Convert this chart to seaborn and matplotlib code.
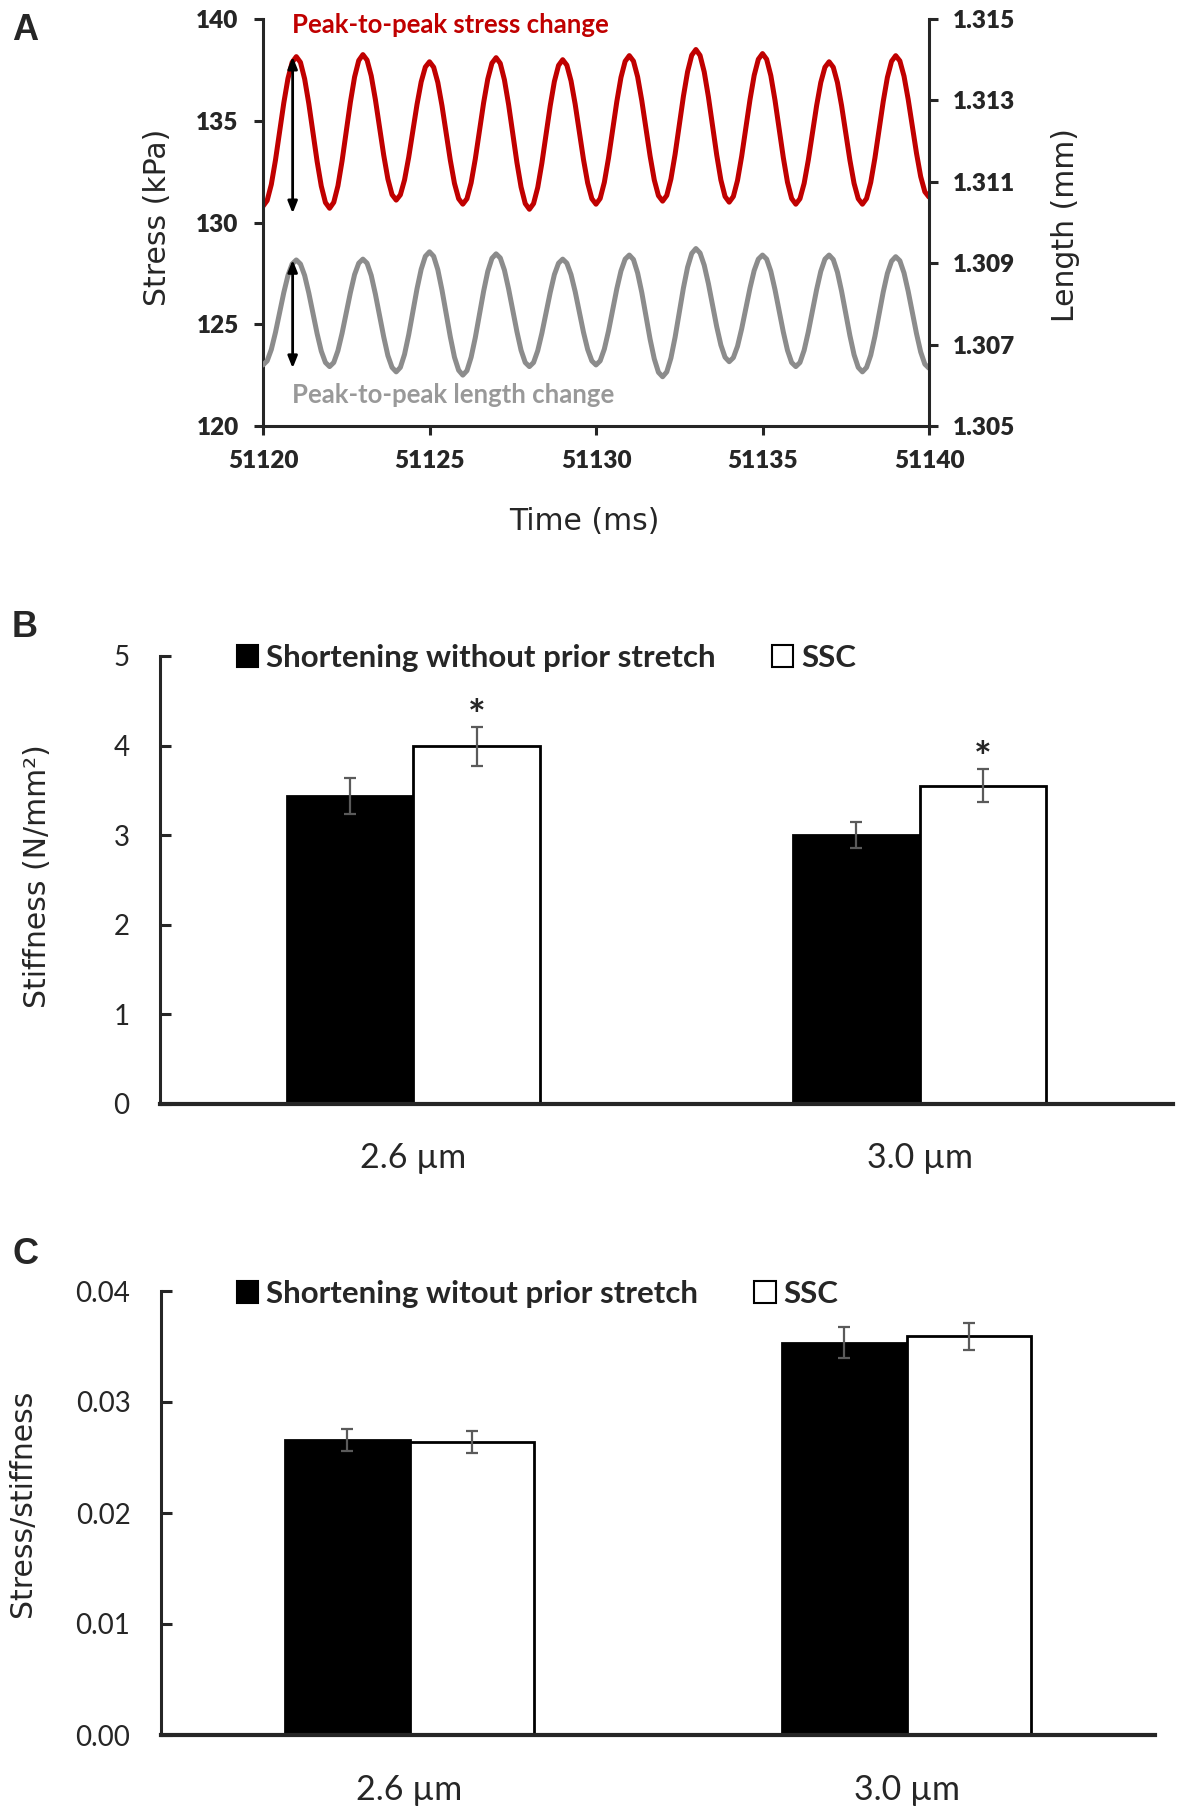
import numpy as np
import pandas as pd
import matplotlib
matplotlib.use('Agg')
import matplotlib.pyplot as plt
from matplotlib.patches import Patch
import seaborn as sns

# ---------------- data ----------------
# Panel A: traces, one value every 0.125 ms
time_ms = np.arange(51120, 51140.001, 0.125)
stress_kpa = [130.80,
              131.08, 131.87, 133.07, 134.48, 135.88, 137.08, 137.87, 138.15,
              137.87, 137.06, 135.85, 134.42, 133.00, 131.79, 130.98, 130.70,
              130.99, 131.80, 133.03, 134.48, 135.92, 137.15, 137.96, 138.25,
              137.98, 137.21, 136.04, 134.67, 133.31, 132.14, 131.37, 131.10,
              131.36, 132.09, 133.20, 134.50, 135.80, 136.91, 137.64, 137.90,
              137.63, 136.88, 135.74, 134.40, 133.06, 131.92, 131.17, 130.90,
              131.17, 131.95, 133.12, 134.50, 135.88, 137.05, 137.83, 138.10,
              137.82, 137.01, 135.80, 134.37, 132.95, 131.74, 130.93, 130.65,
              130.93, 131.72, 132.92, 134.33, 135.73, 136.93, 137.72, 138.00,
              137.73, 136.96, 135.81, 134.45, 133.09, 131.94, 131.17, 130.90,
              131.18, 131.97, 133.16, 134.55, 135.94, 137.13, 137.92, 138.20,
              137.93, 137.16, 135.99, 134.62, 133.26, 132.09, 131.32, 131.05,
              131.33, 132.14, 133.35, 134.78, 136.20, 137.41, 138.22, 138.50,
              138.21, 137.40, 136.18, 134.75, 133.32, 132.09, 131.28, 131.00,
              131.28, 132.07, 133.26, 134.65, 136.04, 137.23, 138.02, 138.30,
              138.02, 137.22, 136.01, 134.60, 133.19, 131.98, 131.18, 130.90,
              131.17, 131.92, 133.06, 134.40, 135.74, 136.88, 137.63, 137.90,
              137.63, 136.88, 135.74, 134.40, 133.06, 131.92, 131.17, 130.90,
              131.18, 131.97, 133.16, 134.55, 135.94, 137.13, 137.92, 138.20,
              137.94, 137.19, 136.05, 134.72, 133.40, 132.26, 131.51, 131.25]
length_mm = [1.30650,
             1.30660, 1.30688, 1.30730, 1.30779, 1.30828, 1.30870, 1.30898, 1.30908,
             1.30898, 1.30870, 1.30827, 1.30777, 1.30727, 1.30684, 1.30656, 1.30646,
             1.30656, 1.30685, 1.30728, 1.30778, 1.30828, 1.30872, 1.30900, 1.30910,
             1.30900, 1.30870, 1.30824, 1.30772, 1.30719, 1.30673, 1.30644, 1.30633,
             1.30644, 1.30676, 1.30724, 1.30781, 1.30837, 1.30885, 1.30917, 1.30928,
             1.30917, 1.30884, 1.30834, 1.30777, 1.30719, 1.30669, 1.30637, 1.30625,
             1.30636, 1.30669, 1.30717, 1.30774, 1.30831, 1.30880, 1.30912, 1.30923,
             1.30913, 1.30883, 1.30837, 1.30785, 1.30732, 1.30686, 1.30656, 1.30646,
             1.30656, 1.30685, 1.30728, 1.30778, 1.30828, 1.30872, 1.30900, 1.30910,
             1.30900, 1.30872, 1.30830, 1.30780, 1.30730, 1.30688, 1.30660, 1.30650,
             1.30660, 1.30689, 1.30733, 1.30785, 1.30837, 1.30881, 1.30910, 1.30920,
             1.30909, 1.30876, 1.30828, 1.30771, 1.30713, 1.30665, 1.30632, 1.30621,
             1.30633, 1.30667, 1.30718, 1.30779, 1.30839, 1.30890, 1.30924, 1.30936,
             1.30925, 1.30895, 1.30850, 1.30797, 1.30744, 1.30699, 1.30669, 1.30658,
             1.30668, 1.30696, 1.30739, 1.30789, 1.30839, 1.30882, 1.30910, 1.30920,
             1.30910, 1.30880, 1.30835, 1.30783, 1.30731, 1.30686, 1.30656, 1.30646,
             1.30656, 1.30686, 1.30731, 1.30783, 1.30835, 1.30880, 1.30910, 1.30920,
             1.30909, 1.30878, 1.30831, 1.30777, 1.30722, 1.30675, 1.30644, 1.30633,
             1.30644, 1.30674, 1.30720, 1.30775, 1.30829, 1.30875, 1.30905, 1.30916,
             1.30906, 1.30876, 1.30831, 1.30779, 1.30727, 1.30682, 1.30652, 1.30642]

time_ticks = [51120, 51125, 51130, 51135, 51140]
stress_ticks = [120, 125, 130, 135, 140]
length_ticks = [1.305, 1.307, 1.309, 1.311, 1.313, 1.315]

# Panels B and C
sarcomere = ['2.6 µm', '3.0 µm']
groups_b = ['Shortening without prior stretch', 'SSC']
groups_c = ['Shortening witout prior stretch', 'SSC']
stiffness_mean = {'shortening': [3.44, 3.00], 'ssc': [3.99, 3.55]}
stiffness_err = {'shortening': [0.20, 0.145], 'ssc': [0.22, 0.185]}
stiffness_ticks = [0, 1, 2, 3, 4, 5]
ratio_mean = {'shortening': [0.0266, 0.03535], 'ssc': [0.0264, 0.03592]}
ratio_err = {'shortening': [0.00098, 0.0014], 'ssc': [0.00097, 0.00122]}
ratio_ticks = [0.00, 0.01, 0.02, 0.03, 0.04]

RED = '#C00000'
GREY = '#8C8C8C'
ERR = '#5A5A5A'

sns.set_style('ticks')
plt.rcParams['font.family'] = ['Lato', 'DejaVu Sans']
plt.rcParams['axes.linewidth'] = 2.2

W, H = 1182, 1814
fig = plt.figure(figsize=(W / 100, H / 100), dpi=100)


def px_axes(left, top, right, bottom):
    # axes rectangle from pixel edges
    return fig.add_axes([left / W, 1 - bottom / H, (right - left) / W, (bottom - top) / H])


def label_font(size=21.5):
    return dict(family='DejaVu Sans', size=size)


# ---------------- panel A ----------------
ax_a = px_axes(263, 19, 929, 426)
ax_a2 = ax_a.twinx()
sns.lineplot(x=time_ms, y=stress_kpa, ax=ax_a, color=RED, linewidth=3.6)
sns.lineplot(x=time_ms, y=length_mm, ax=ax_a2, color=GREY, linewidth=3.6)
ax_a.set_xlim(51120, 51140)
ax_a.set_ylim(120, 140)
ax_a2.set_ylim(1.305, 1.315)
ax_a.set_xticks(time_ticks, [str(t) for t in time_ticks])
ax_a.set_yticks(stress_ticks, [str(t) for t in stress_ticks])
ax_a2.set_yticks(length_ticks, ['%.3f' % t for t in length_ticks])
ax_a.set_xlabel('')
ax_a.set_ylabel('')
ax_a2.set_ylabel('')
for ax in (ax_a, ax_a2):
    ax.spines['top'].set_visible(False)
    ax.tick_params(direction='out', length=6.5, width=2.2, pad=11, labelsize=17.5)
ax_a.spines['right'].set_visible(False)
ax_a2.spines['left'].set_visible(False)
ax_a2.spines['bottom'].set_visible(False)

# peak-to-peak arrows
x_arrow = 51120.89
arrow_style = dict(arrowstyle='<|-|>,head_length=0.7,head_width=0.28',
                   color='black', lw=2, shrinkA=0, shrinkB=0)
ax_a.annotate('', xy=(x_arrow, min(stress_kpa[:17]) - 0.25), xytext=(x_arrow, stress_kpa[8]),
              arrowprops=arrow_style, zorder=5)
ax_a2.annotate('', xy=(x_arrow, min(length_mm[:17]) - 0.00004), xytext=(x_arrow, length_mm[8]),
               arrowprops=arrow_style, zorder=5)
ax_a.text(51120.87, 139.7, 'Peak-to-peak stress change', color=RED, fontweight='bold',
          fontsize=18.5, va='center', ha='left')
ax_a.text(51120.87, 121.5, 'Peak-to-peak length change', color='#999999', fontweight='bold',
          fontsize=18.5, va='center', ha='left')

fig.text(157 / W, 1 - 217 / H, 'Stress (kPa)', rotation=90, ha='center', va='center', **label_font())
fig.text(1066 / W, 1 - 225 / H, 'Length (mm)', rotation=90, ha='center', va='center', **label_font())
fig.text(584 / W, 1 - 522 / H, 'Time (ms)', ha='center', va='center', **label_font())


# ---------------- panels B and C ----------------
def draw_bars(ax, groups, means, errs, ylim, yticks, fmt, xpad):
    df = pd.DataFrame({
        'sl': sarcomere * 2,
        'group': [groups[0]] * 2 + [groups[1]] * 2,
        'value': means['shortening'] + means['ssc']})
    sns.barplot(data=df, x='sl', y='value', hue='group', palette=['black', 'white'],
                edgecolor='black', linewidth=2, width=0.5, saturation=1,
                errorbar=None, legend=False, ax=ax)
    # error bars on top of each bar
    for cont, key in zip(ax.containers, ['shortening', 'ssc']):
        xs = [p.get_x() + p.get_width() / 2 for p in cont.patches]
        ax.errorbar(xs, means[key], yerr=errs[key], fmt='none', ecolor=ERR,
                    elinewidth=1.6, capsize=4, capthick=1.6, zorder=4)
    ax.set_xlim(-0.5, 1.5)
    ax.set_ylim(*ylim)
    ax.set_yticks(yticks, [fmt % t for t in yticks])
    ax.set_xlabel('')
    ax.set_ylabel('')
    sns.despine(ax=ax)
    ax.spines['bottom'].set_linewidth(3)
    ax.tick_params(axis='y', direction='in', length=8, width=2.2, pad=22, labelsize=20)
    ax.tick_params(axis='x', length=0, pad=xpad, labelsize=24.5)


def bar_legend(ax, groups, y_px, spacing):
    handles = [Patch(facecolor='black', edgecolor='black', linewidth=1.5, label=groups[0]),
               Patch(facecolor='white', edgecolor='black', linewidth=1.5, label=groups[1])]
    leg = ax.legend(handles=handles, loc='center left', bbox_to_anchor=(237 / W, 1 - y_px / H),
                    bbox_transform=fig.transFigure, ncol=2, frameon=False, borderpad=0,
                    borderaxespad=0, handlelength=0.68, handleheight=0.68, handletextpad=0.25,
                    columnspacing=spacing, prop=dict(family='Lato', weight='bold', size=22.5))
    return leg


ax_b = px_axes(160, 656, 1173, 1104)
draw_bars(ax_b, groups_b, stiffness_mean, stiffness_err, (0, 5), stiffness_ticks, '%d', 27)
bar_legend(ax_b, groups_b, 658, 1.8)
for cont in ax_b.containers[1:2]:
    for p, e in zip(cont.patches, stiffness_err['ssc']):
        ax_b.text(p.get_x() + p.get_width() / 2, p.get_height() + e + 0.10, '*',
                  ha='center', va='center', fontsize=30, fontweight='bold')
fig.text(38 / W, 1 - 876 / H, 'Stiffness (N/mm²)', rotation=90, ha='center', va='center',
         **label_font())

ax_c = px_axes(161, 1291, 1155, 1735)
draw_bars(ax_c, groups_c, ratio_mean, ratio_err, (0, 0.04), ratio_ticks, '%.2f', 28)
bar_legend(ax_c, groups_c, 1294, 1.8)
fig.text(23 / W, 1 - 1503 / H, 'Stress/stiffness', rotation=90, ha='center', va='center',
         **label_font())

# panel letters
for letter, y_px in [('A', 30), ('B', 627), ('C', 1254)]:
    fig.text(25 / W, 1 - y_px / H, letter, ha='center', va='center',
             family='Liberation Sans', fontweight='bold', fontsize=26)

# bold tick labels of panel A, applied last so nothing resets them
for lab in ax_a.get_xticklabels() + ax_a.get_yticklabels() + ax_a2.get_yticklabels():
    lab.set_fontweight('heavy')

fig.savefig('out.png', dpi=100)
